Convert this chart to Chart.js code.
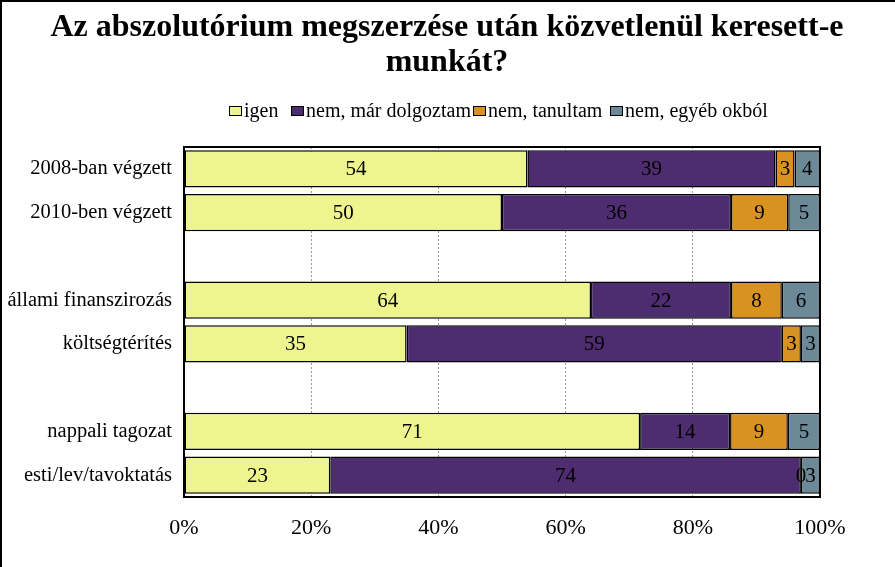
<!DOCTYPE html>
<html>
<head>
<meta charset="utf-8">
<script src="https://cdn.jsdelivr.net/npm/chart.js@4.4.0/dist/chart.umd.min.js"></script>
<style>
html, body { margin: 0; padding: 0; background: #fff; }
#wrap { width: 895px; height: 567px; position: relative; }
</style>
</head>
<body>
<div id="wrap"><canvas id="chart"></canvas></div>
<script>
var categories = ['2008-ban végzett', '2010-ben végzett', '', 'állami finanszirozás', 'költségtérítés', '', 'nappali tagozat', 'esti/lev/tavoktatás'];
var seriesNames = ['igen', 'nem, már dolgoztam', 'nem, tanultam', 'nem, egyéb okból'];
var igen = [54, 50, null, 64, 35, null, 71, 23];
var dolgoztam = [39, 36, null, 22, 59, null, 14, 74];
var tanultam = [3, 9, null, 8, 3, null, 9, 0];
var egyeb = [4, 5, null, 6, 3, null, 5, 3];
var xTicks = ['0%', '20%', '40%', '60%', '80%', '100%'];
var titleLines = ['Az abszolutórium megszerzése után közvetlenül keresett-e', 'munkát?'];

var colors = ['#EFF58E', '#4E2C70', '#D8921F', '#6B8997'];
var serif = '"Liberation Serif", "Times New Roman", serif';
var allSeries = [igen, dolgoztam, tanultam, egyeb];

// 100% stacked: each row is shown as share of its total
var totals = categories.map(function (c, i) {
    var s = 0;
    allSeries.forEach(function (a) { if (a[i] != null) s += a[i]; });
    return s;
});
function share(arr) {
    return arr.map(function (v, i) { return v == null ? null : v / totals[i] * 100; });
}

var datasets = allSeries.map(function (arr, k) {
    return {
        label: seriesNames[k],
        data: share(arr),
        raw: arr,
        backgroundColor: colors[k],
        borderColor: '#000',
        borderWidth: 1.5,
        borderSkipped: false,
        categoryPercentage: 0.85,
        barPercentage: 1
    };
});

var framePlugin = {
    id: 'frame',
    beforeDraw: function (chart) {
        var c = chart.ctx;
        c.save();
        c.fillStyle = '#fff';
        c.fillRect(0, 0, chart.width, chart.height);
        c.strokeStyle = '#000';
        c.lineWidth = 2;
        c.beginPath();
        c.moveTo(1, chart.height);
        c.lineTo(1, 1);
        c.lineTo(chart.width, 1);
        c.stroke();

        // title, centred on the whole picture
        c.fillStyle = '#000';
        c.font = 'bold 32px ' + serif;
        c.textAlign = 'center';
        c.textBaseline = 'middle';
        c.fillText(titleLines[0], 447, 28);
        c.fillText(titleLines[1], 447, 63);
        c.restore();
    },
    afterDatasetsDraw: function (chart) {
        var c = chart.ctx, a = chart.chartArea;
        c.save();
        c.strokeStyle = '#000';
        c.lineWidth = 2;
        c.strokeRect(a.left, a.top, a.right - a.left, a.bottom - a.top);

        // value labels
        c.fillStyle = '#000';
        c.font = '21px ' + serif;
        c.textAlign = 'center';
        c.textBaseline = 'middle';
        chart.data.datasets.forEach(function (ds, k) {
            chart.getDatasetMeta(k).data.forEach(function (el, i) {
                if (ds.raw[i] == null) return;
                c.fillText(String(ds.raw[i]), (el.x + el.base) / 2, el.y + 1);
            });
        });

        // legend
        var boxX = [229, 291, 473, 610];
        var ly = 111;
        c.font = '20px ' + serif;
        c.textAlign = 'left';
        seriesNames.forEach(function (name, k) {
            c.fillStyle = '#000';
            c.fillText(name, boxX[k] + 15, ly + 1);
        });
        seriesNames.forEach(function (name, k) {
            c.fillStyle = colors[k];
            c.fillRect(boxX[k], ly - 5, 13, 10);
            c.strokeStyle = '#000';
            c.lineWidth = 1;
            c.strokeRect(boxX[k] + 0.5, ly - 4.5, 12, 9);
        });
        c.restore();
    }
};

new Chart(document.getElementById('chart'), {
    type: 'bar',
    data: { labels: categories, datasets: datasets },
    options: {
        indexAxis: 'y',
        responsive: true,
        maintainAspectRatio: false,
        animation: false,
        layout: { padding: { left: 0, right: 75, top: 147, bottom: 8 } },
        plugins: {
            legend: { display: false },
            tooltip: { enabled: false },
            title: { display: false }
        },
        scales: {
            x: {
                stacked: true,
                min: 0,
                max: 100,
                ticks: {
                    stepSize: 20,
                    color: '#000',
                    padding: 18,
                    font: { family: serif, size: 22 },
                    callback: function (v, i) { return xTicks[i]; }
                },
                grid: { color: '#999', borderDash: [2, 2], drawTicks: false },
                border: { display: false, dash: [2, 2] },
                afterFit: function (s) { s.height = 62; }
            },
            y: {
                stacked: true,
                ticks: { color: '#000', padding: 12, font: { family: serif, size: 20.5 } },
                grid: { display: false, drawTicks: false },
                border: { display: false },
                afterFit: function (s) { s.width = 184; }
            }
        }
    },
    plugins: [framePlugin]
});
</script>
</body>
</html>
